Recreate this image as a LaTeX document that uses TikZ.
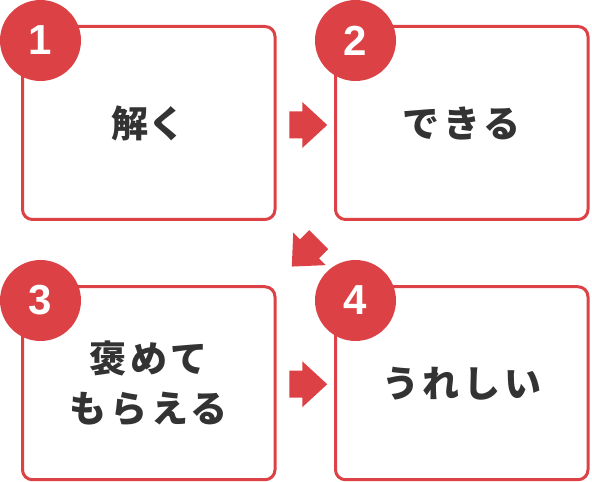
\documentclass[tikz,border=0pt]{standalone}
\usepackage{fontspec}
\newfontfamily\jp[LetterSpace=10]{Noto Sans CJK JP}
\newfontfamily\jptight{Noto Sans CJK JP}
\newfontfamily\numfont{Liberation Sans}
\usetikzlibrary{calc}
\definecolor{accent}{RGB}{220,66,69}
\definecolor{ink}{RGB}{51,51,51}
\tikzset{
  box/.style={draw=accent, line width=3pt, rounded corners=10pt, fill=white,
    minimum width=252.5pt, minimum height=193pt, inner sep=0pt,
    font=\jp\bfseries\fontsize{37}{50}\selectfont, text=ink, align=center},
  tightbox/.style={box, font=\jptight\bfseries\fontsize{37}{50}\selectfont},
  badge/.style={circle, fill=accent, minimum size=81pt, inner sep=0pt,
    text=white, font=\numfont\bfseries\fontsize{42}{42}\selectfont},
  blockarrow/.pic={\fill[accent] (19,0) -- (-6,23) -- (-6,13.5) -- (-19,13.5)
    -- (-19,-13.5) -- (-6,-13.5) -- (-6,-23) -- cycle;}
}
\begin{document}
\begin{tikzpicture}[x=1pt,y=1pt]
\useasboundingbox (0,0) rectangle (592,482);
\node[tightbox] (b1) at (148.75,359) {解く};
\node[box] (b2) at (461.75,359) {できる};
\node[box] (b3) at (148.75,98.75) {褒めて\\もらえる};
\node[box] (b4) at (461.75,98.75) {うれしい};
\node[badge] (c1) at (40.5,441.5) {1};
\node[badge] (c2) at (355.5,441.5) {2};
\node[badge] (c3) at (40.5,181.5) {3};
\node[badge] (c4) at (355.5,181.5) {4};
\coordinate (m12) at ($(b1.east)!0.5!(b2.west)+(3,-2)$);
\coordinate (m23) at ($(b2.south west)!0.5!(b3.north east)$);
\coordinate (m34) at ($(b3.east)!0.5!(b4.west)+(3,-1)$);
\pic at (m12) {blockarrow};
\pic[rotate=225] at (m23) {blockarrow};
\pic at (m34) {blockarrow};
\end{tikzpicture}
\end{document}
